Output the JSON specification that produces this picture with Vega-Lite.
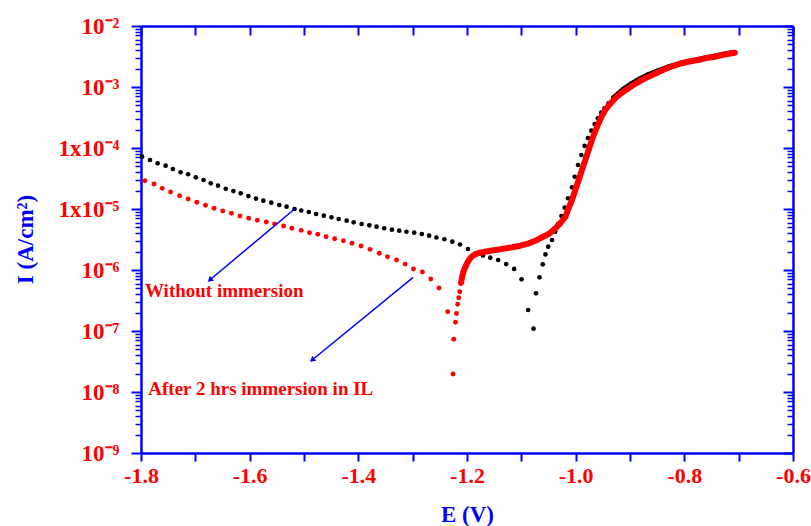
{
  "$schema": "https://vega.github.io/schema/vega-lite/v6.json",
  "width": 652,
  "height": 427,
  "autosize": {"type": "none"},
  "padding": {"left": 141, "top": 26, "right": 18, "bottom": 73},
  "background": "white",
  "config": {"view": {"stroke": null}, "font": "Liberation Serif", "axis": {"grid": false}},
  "datasets": {
    "curves": [
      {"E": -1.798, "I": 7.20e-5, "s": "w", "b": "dot"},
      {"E": -1.7835, "I": 6.36e-5, "s": "w", "b": "dot"},
      {"E": -1.7694, "I": 5.61e-5, "s": "w", "b": "dot"},
      {"E": -1.7547, "I": 5.13e-5, "s": "w", "b": "dot"},
      {"E": -1.7413, "I": 4.53e-5, "s": "w", "b": "dot"},
      {"E": -1.7272, "I": 4.00e-5, "s": "w", "b": "dot"},
      {"E": -1.7132, "I": 3.71e-5, "s": "w", "b": "dot"},
      {"E": -1.6991, "I": 3.31e-5, "s": "w", "b": "dot"},
      {"E": -1.6849, "I": 2.99e-5, "s": "w", "b": "dot"},
      {"E": -1.6716, "I": 2.64e-5, "s": "w", "b": "dot"},
      {"E": -1.6582, "I": 2.41e-5, "s": "w", "b": "dot"},
      {"E": -1.6440, "I": 2.15e-5, "s": "w", "b": "dot"},
      {"E": -1.6299, "I": 1.97e-5, "s": "w", "b": "dot"},
      {"E": -1.6165, "I": 1.81e-5, "s": "w", "b": "dot"},
      {"E": -1.6024, "I": 1.63e-5, "s": "w", "b": "dot"},
      {"E": -1.5884, "I": 1.48e-5, "s": "w", "b": "dot"},
      {"E": -1.5749, "I": 1.37e-5, "s": "w", "b": "dot"},
      {"E": -1.5602, "I": 1.27e-5, "s": "w", "b": "dot"},
      {"E": -1.5455, "I": 1.16e-5, "s": "w", "b": "dot"},
      {"E": -1.5321, "I": 1.09e-5, "s": "w", "b": "dot"},
      {"E": -1.5174, "I": 1.00e-5, "s": "w", "b": "dot"},
      {"E": -1.5051, "I": 9.45e-6, "s": "w", "b": "dot"},
      {"E": -1.4912, "I": 8.93e-6, "s": "w", "b": "dot"},
      {"E": -1.4776, "I": 8.28e-6, "s": "w", "b": "dot"},
      {"E": -1.4636, "I": 7.77e-6, "s": "w", "b": "dot"},
      {"E": -1.4495, "I": 7.31e-6, "s": "w", "b": "dot"},
      {"E": -1.4361, "I": 6.86e-6, "s": "w", "b": "dot"},
      {"E": -1.4215, "I": 6.43e-6, "s": "w", "b": "dot"},
      {"E": -1.4086, "I": 6.05e-6, "s": "w", "b": "dot"},
      {"E": -1.3939, "I": 5.68e-6, "s": "w", "b": "dot"},
      {"E": -1.3798, "I": 5.40e-6, "s": "w", "b": "dot"},
      {"E": -1.3664, "I": 5.13e-6, "s": "w", "b": "dot"},
      {"E": -1.3523, "I": 4.83e-6, "s": "w", "b": "dot"},
      {"E": -1.3382, "I": 4.58e-6, "s": "w", "b": "dot"},
      {"E": -1.3248, "I": 4.41e-6, "s": "w", "b": "dot"},
      {"E": -1.3114, "I": 4.24e-6, "s": "w", "b": "dot"},
      {"E": -1.2972, "I": 4.09e-6, "s": "w", "b": "dot"},
      {"E": -1.2831, "I": 3.89e-6, "s": "w", "b": "dot"},
      {"E": -1.2697, "I": 3.65e-6, "s": "w", "b": "dot"},
      {"E": -1.2563, "I": 3.41e-6, "s": "w", "b": "dot"},
      {"E": -1.2416, "I": 3.19e-6, "s": "w", "b": "dot"},
      {"E": -1.2269, "I": 2.91e-6, "s": "w", "b": "dot"},
      {"E": -1.2128, "I": 2.62e-6, "s": "w", "b": "dot"},
      {"E": -1.1982, "I": 2.21e-6, "s": "w", "b": "dot"},
      {"E": -1.1840, "I": 1.88e-6, "s": "w", "b": "dot"},
      {"E": -1.1706, "I": 1.73e-6, "s": "w", "b": "dot"},
      {"E": -1.1572, "I": 1.59e-6, "s": "w", "b": "dot"},
      {"E": -1.1426, "I": 1.46e-6, "s": "w", "b": "dot"},
      {"E": -1.1279, "I": 1.25e-6, "s": "w", "b": "dot"},
      {"E": -1.1132, "I": 1.04e-6, "s": "w", "b": "dot"},
      {"E": -1.0996, "I": 7.04e-7, "s": "w", "b": "dot"},
      {"E": -1.0875, "I": 2.21e-7, "s": "w", "b": "dot"},
      {"E": -1.0776, "I": 1.09e-7, "s": "w", "b": "dot"},
      {"E": -1.0729, "I": 4.15e-7, "s": "w", "b": "dot"},
      {"E": -1.0666, "I": 7.59e-7, "s": "w", "b": "dot"},
      {"E": -1.0606, "I": 1.24e-6, "s": "w", "b": "dot"},
      {"E": -1.0556, "I": 1.80e-6, "s": "w", "b": "dot"},
      {"E": -1.0505, "I": 2.41e-6, "s": "w", "b": "dot"},
      {"E": -1.0435, "I": 3.10e-6, "s": "w", "b": "dot"},
      {"E": -1.0376, "I": 4.24e-6, "s": "w", "b": "dot"},
      {"E": -1.0325, "I": 5.68e-6, "s": "w", "b": "dot"},
      {"E": -1.0262, "I": 7.68e-6, "s": "w", "b": "dot"},
      {"E": -1.0202, "I": 1.05e-5, "s": "w", "b": "dot"},
      {"E": -1.0141, "I": 1.50e-5, "s": "w", "b": "dot"},
      {"E": -1.0068, "I": 2.27e-5, "s": "w", "b": "dot"},
      {"E": -1.0018, "I": 3.38e-5, "s": "w", "b": "dot"},
      {"E": -0.9957, "I": 5.26e-5, "s": "w", "b": "dot"},
      {"E": -0.9895, "I": 7.68e-5, "s": "w", "b": "dot"},
      {"E": -0.9835, "I": 1.08e-4, "s": "w", "b": "dot"},
      {"E": -0.9774, "I": 1.46e-4, "s": "w", "b": "dot"},
      {"E": -0.9712, "I": 1.92e-4, "s": "w", "b": "dot"},
      {"E": -0.9651, "I": 2.47e-4, "s": "w", "b": "dot"},
      {"E": -0.9591, "I": 3.07e-4, "s": "w", "b": "dot"},
      {"E": -0.9529, "I": 3.79e-4, "s": "w", "b": "dot"},
      {"E": -0.9468, "I": 4.47e-4, "s": "w", "b": "dot"},
      {"E": -0.9395, "I": 5.40e-4, "s": "w", "b": "dot"},
      {"E": -0.9303, "I": 6.68e-4, "s": "w", "b": "band"},
      {"E": -0.9211, "I": 7.88e-4, "s": "w", "b": "band"},
      {"E": -0.9119, "I": 9.27e-4, "s": "w", "b": "band"},
      {"E": -0.8972, "I": 1.14e-3, "s": "w", "b": "band"},
      {"E": -0.8826, "I": 1.35e-3, "s": "w", "b": "band"},
      {"E": -0.8661, "I": 1.60e-3, "s": "w", "b": "band"},
      {"E": -0.8477, "I": 1.86e-3, "s": "w", "b": "band"},
      {"E": -0.8294, "I": 2.13e-3, "s": "w", "b": "band"},
      {"E": -0.8110, "I": 2.38e-3, "s": "w", "b": "band"},
      {"E": -0.7927, "I": 2.62e-3, "s": "w", "b": "band"},
      {"E": -0.7743, "I": 2.82e-3, "s": "w", "b": "band"},
      {"E": -0.7523, "I": 3.10e-3, "s": "w", "b": "band"},
      {"E": -0.7303, "I": 3.41e-3, "s": "w", "b": "band"},
      {"E": -0.7083, "I": 3.68e-3, "s": "w", "b": "band"},
      {"E": -1.7927, "I": 2.91e-5, "s": "a", "b": "dot"},
      {"E": -1.7761, "I": 2.57e-5, "s": "a", "b": "dot"},
      {"E": -1.7609, "I": 2.18e-5, "s": "a", "b": "dot"},
      {"E": -1.7455, "I": 1.90e-5, "s": "a", "b": "dot"},
      {"E": -1.7290, "I": 1.65e-5, "s": "a", "b": "dot"},
      {"E": -1.7132, "I": 1.46e-5, "s": "a", "b": "dot"},
      {"E": -1.6972, "I": 1.29e-5, "s": "a", "b": "dot"},
      {"E": -1.6813, "I": 1.15e-5, "s": "a", "b": "dot"},
      {"E": -1.6655, "I": 1.03e-5, "s": "a", "b": "dot"},
      {"E": -1.6495, "I": 9.27e-6, "s": "a", "b": "dot"},
      {"E": -1.6336, "I": 8.50e-6, "s": "a", "b": "dot"},
      {"E": -1.6178, "I": 7.68e-6, "s": "a", "b": "dot"},
      {"E": -1.6018, "I": 7.04e-6, "s": "a", "b": "dot"},
      {"E": -1.5859, "I": 6.53e-6, "s": "a", "b": "dot"},
      {"E": -1.5694, "I": 6.12e-6, "s": "a", "b": "dot"},
      {"E": -1.5541, "I": 5.68e-6, "s": "a", "b": "dot"},
      {"E": -1.5376, "I": 5.26e-6, "s": "a", "b": "dot"},
      {"E": -1.5224, "I": 4.83e-6, "s": "a", "b": "dot"},
      {"E": -1.5051, "I": 4.47e-6, "s": "a", "b": "dot"},
      {"E": -1.4899, "I": 4.09e-6, "s": "a", "b": "dot"},
      {"E": -1.4747, "I": 3.85e-6, "s": "a", "b": "dot"},
      {"E": -1.4593, "I": 3.51e-6, "s": "a", "b": "dot"},
      {"E": -1.4435, "I": 3.26e-6, "s": "a", "b": "dot"},
      {"E": -1.4275, "I": 3.02e-6, "s": "a", "b": "dot"},
      {"E": -1.4116, "I": 2.74e-6, "s": "a", "b": "dot"},
      {"E": -1.3950, "I": 2.47e-6, "s": "a", "b": "dot"},
      {"E": -1.3785, "I": 2.18e-6, "s": "a", "b": "dot"},
      {"E": -1.3615, "I": 1.88e-6, "s": "a", "b": "dot"},
      {"E": -1.3462, "I": 1.65e-6, "s": "a", "b": "dot"},
      {"E": -1.3297, "I": 1.46e-6, "s": "a", "b": "dot"},
      {"E": -1.3138, "I": 1.25e-6, "s": "a", "b": "dot"},
      {"E": -1.2985, "I": 1.04e-6, "s": "a", "b": "dot"},
      {"E": -1.2820, "I": 9.27e-7, "s": "a", "b": "dot"},
      {"E": -1.2666, "I": 7.12e-7, "s": "a", "b": "dot"},
      {"E": -1.2514, "I": 5.07e-7, "s": "a", "b": "dot"},
      {"E": -1.2354, "I": 2.07e-7, "s": "a", "b": "dot"},
      {"E": -1.2193, "I": 1.94e-7, "s": "a", "b": "dot"},
      {"E": -1.2212, "I": 1.39e-7, "s": "a", "b": "dot"},
      {"E": -1.2244, "I": 7.31e-8, "s": "a", "b": "dot"},
      {"E": -1.2257, "I": 1.97e-8, "s": "a", "b": "dot"},
      {"E": -1.2171, "I": 2.74e-7, "s": "a", "b": "dot"},
      {"E": -1.2152, "I": 3.51e-7, "s": "a", "b": "dot"},
      {"E": -1.2134, "I": 4.41e-7, "s": "a", "b": "dot"},
      {"E": -1.2110, "I": 6.12e-7, "s": "a", "b": "band"},
      {"E": -1.2086, "I": 7.97e-7, "s": "a", "b": "band"},
      {"E": -1.2061, "I": 9.63e-7, "s": "a", "b": "band"},
      {"E": -1.2024, "I": 1.16e-6, "s": "a", "b": "band"},
      {"E": -1.1982, "I": 1.37e-6, "s": "a", "b": "band"},
      {"E": -1.1945, "I": 1.53e-6, "s": "a", "b": "band"},
      {"E": -1.1903, "I": 1.68e-6, "s": "a", "b": "band"},
      {"E": -1.1853, "I": 1.80e-6, "s": "a", "b": "band"},
      {"E": -1.1780, "I": 1.90e-6, "s": "a", "b": "band"},
      {"E": -1.1719, "I": 1.95e-6, "s": "a", "b": "band"},
      {"E": -1.1596, "I": 2.05e-6, "s": "a", "b": "band"},
      {"E": -1.1473, "I": 2.13e-6, "s": "a", "b": "band"},
      {"E": -1.1321, "I": 2.24e-6, "s": "a", "b": "band"},
      {"E": -1.1169, "I": 2.36e-6, "s": "a", "b": "band"},
      {"E": -1.1028, "I": 2.50e-6, "s": "a", "b": "band"},
      {"E": -1.0862, "I": 2.74e-6, "s": "a", "b": "band"},
      {"E": -1.0734, "I": 3.04e-6, "s": "a", "b": "band"},
      {"E": -1.0618, "I": 3.44e-6, "s": "a", "b": "band"},
      {"E": -1.0495, "I": 3.89e-6, "s": "a", "b": "band"},
      {"E": -1.0372, "I": 4.83e-6, "s": "a", "b": "band"},
      {"E": -1.0294, "I": 5.68e-6, "s": "a", "b": "band"},
      {"E": -1.0189, "I": 7.48e-6, "s": "a", "b": "band"},
      {"E": -1.0128, "I": 1.04e-5, "s": "a", "b": "band"},
      {"E": -1.0068, "I": 1.40e-5, "s": "a", "b": "band"},
      {"E": -1.0006, "I": 2.05e-5, "s": "a", "b": "band"},
      {"E": -0.9945, "I": 2.99e-5, "s": "a", "b": "band"},
      {"E": -0.9884, "I": 4.36e-5, "s": "a", "b": "band"},
      {"E": -0.9822, "I": 6.36e-5, "s": "a", "b": "band"},
      {"E": -0.9761, "I": 9.27e-5, "s": "a", "b": "band"},
      {"E": -0.9701, "I": 1.35e-4, "s": "a", "b": "band"},
      {"E": -0.9638, "I": 1.90e-4, "s": "a", "b": "band"},
      {"E": -0.9578, "I": 2.54e-4, "s": "a", "b": "band"},
      {"E": -0.9517, "I": 3.35e-4, "s": "a", "b": "band"},
      {"E": -0.9455, "I": 4.20e-4, "s": "a", "b": "band"},
      {"E": -0.9376, "I": 5.17e-4, "s": "a", "b": "band"},
      {"E": -0.9271, "I": 6.53e-4, "s": "a", "b": "band"},
      {"E": -0.9156, "I": 7.97e-4, "s": "a", "b": "band"},
      {"E": -0.9028, "I": 9.52e-4, "s": "a", "b": "band"},
      {"E": -0.8881, "I": 1.16e-3, "s": "a", "b": "band"},
      {"E": -0.8721, "I": 1.39e-3, "s": "a", "b": "band"},
      {"E": -0.8569, "I": 1.60e-3, "s": "a", "b": "band"},
      {"E": -0.8354, "I": 1.97e-3, "s": "a", "b": "band"},
      {"E": -0.8202, "I": 2.21e-3, "s": "a", "b": "band"},
      {"E": -0.8050, "I": 2.45e-3, "s": "a", "b": "band"},
      {"E": -0.7908, "I": 2.62e-3, "s": "a", "b": "band"},
      {"E": -0.7743, "I": 2.77e-3, "s": "a", "b": "band"},
      {"E": -0.7596, "I": 2.99e-3, "s": "a", "b": "band"},
      {"E": -0.7437, "I": 3.14e-3, "s": "a", "b": "band"},
      {"E": -0.7266, "I": 3.41e-3, "s": "a", "b": "band"},
      {"E": -0.7070, "I": 3.65e-3, "s": "a", "b": "band"}
    ],
    "arrows": [
      {"E": -1.5174, "I": 1.0e-5, "E2": -1.6734, "I2": 6.86e-7},
      {"E": -1.2991, "I": 7.59e-7, "E2": -1.4850, "I2": 3.35e-8}
    ],
    "notes": [
      {"E": -1.7927, "I": 4.5e-7, "label": "Without immersion"},
      {"E": -1.7866, "I": 1.14e-8, "label": "After 2 hrs immersion in IL"}
    ]
  },
  "encoding": {
    "x": {"field": "E", "type": "quantitative", "scale": {"domain": [-1.8, -0.6], "nice": false, "zero": false}, "axis": null},
    "y": {"field": "I", "type": "quantitative", "scale": {"type": "log", "domain": [1e-9, 1e-2], "nice": false}, "axis": null}
  },
  "layer": [
    {
      "data": {"name": "curves"},
      "transform": [{"filter": "datum.s == 'w'"}],
      "mark": {"type": "circle", "color": "#000000", "opacity": 1, "size": 22},
      "encoding": {
        "x": {
          "field": "E", "type": "quantitative",
          "scale": {"domain": [-1.8, -0.6], "nice": false, "zero": false},
          "axis": {"orient": "bottom", "values": [-1.8, -1.7, -1.6, -1.5, -1.4, -1.3, -1.2, -1.1, -1.0, -0.9, -0.8, -0.7, -0.6], "labels": false, "title": null, "tickColor": "blue", "tickWidth": 2, "tickSize": 8, "domain": false, "ticks": true}
        },
        "y": {
          "field": "I", "type": "quantitative",
          "scale": {"type": "log", "domain": [1e-9, 1e-2], "nice": false},
          "axis": {"orient": "left", "values": [1e-9, 1e-8, 1e-7, 1e-6, 1e-5, 1e-4, 1e-3, 1e-2], "labels": false, "title": null, "tickColor": "blue", "tickWidth": 2, "tickSize": 10, "domain": false, "ticks": true}
        }
      }
    },
    {
      "data": {"name": "curves"},
      "transform": [{"filter": "datum.s == 'w' && datum.b == 'band'"}],
      "mark": {"type": "line", "color": "#000000", "strokeWidth": 5, "strokeCap": "round"},
      "encoding": {
        "x": {
          "field": "E", "type": "quantitative",
          "scale": {"domain": [-1.8, -0.6], "nice": false, "zero": false},
          "axis": {"orient": "top", "values": [-1.8, -1.7, -1.6, -1.5, -1.4, -1.3, -1.2, -1.1, -1.0, -0.9, -0.8, -0.7, -0.6], "labels": false, "title": null, "tickColor": "blue", "tickWidth": 2, "tickSize": -9, "domain": false, "ticks": true}
        },
        "y": {
          "field": "I", "type": "quantitative",
          "scale": {"type": "log", "domain": [1e-9, 1e-2], "nice": false},
          "axis": {"orient": "left", "values": [2e-9, 3e-9, 4e-9, 5e-9, 6e-9, 7e-9, 8e-9, 9e-9, 2e-8, 3e-8, 4e-8, 5e-8, 6e-8, 7e-8, 8e-8, 9e-8, 2e-7, 3e-7, 4e-7, 5e-7, 6e-7, 7e-7, 8e-7, 9e-7, 2e-6, 3e-6, 4e-6, 5e-6, 6e-6, 7e-6, 8e-6, 9e-6, 2e-5, 3e-5, 4e-5, 5e-5, 6e-5, 7e-5, 8e-5, 9e-5, 2e-4, 3e-4, 4e-4, 5e-4, 6e-4, 7e-4, 8e-4, 9e-4, 2e-3, 3e-3, 4e-3, 5e-3, 6e-3, 7e-3, 8e-3, 9e-3], "labels": false, "title": null, "tickColor": "blue", "tickWidth": 1.5, "tickSize": 6, "domain": false, "ticks": true}
        },
        "order": {"field": "E", "type": "quantitative"}
      }
    },
    {
      "data": {"name": "curves"},
      "transform": [{"filter": "datum.s == 'a' && datum.b == 'band'"}],
      "mark": {"type": "line", "color": "#ff0000", "strokeWidth": 6, "strokeCap": "round"},
      "encoding": {
        "y": {
          "field": "I", "type": "quantitative",
          "scale": {"type": "log", "domain": [1e-9, 1e-2], "nice": false},
          "axis": {"orient": "right", "values": [1e-9, 1e-8, 1e-7, 1e-6, 1e-5, 1e-4, 1e-3, 1e-2], "labels": false, "title": null, "tickColor": "blue", "tickWidth": 2, "tickSize": -10, "domain": false, "ticks": true}
        },
        "order": {"field": "E", "type": "quantitative"}
      }
    },
    {
      "data": {"name": "curves"},
      "transform": [{"filter": "datum.s == 'a'"}],
      "mark": {"type": "circle", "color": "#ff0000", "opacity": 1, "size": 24},
      "encoding": {
        "y": {
          "field": "I", "type": "quantitative",
          "scale": {"type": "log", "domain": [1e-9, 1e-2], "nice": false},
          "axis": {"orient": "right", "values": [2e-9, 3e-9, 4e-9, 5e-9, 6e-9, 7e-9, 8e-9, 9e-9, 2e-8, 3e-8, 4e-8, 5e-8, 6e-8, 7e-8, 8e-8, 9e-8, 2e-7, 3e-7, 4e-7, 5e-7, 6e-7, 7e-7, 8e-7, 9e-7, 2e-6, 3e-6, 4e-6, 5e-6, 6e-6, 7e-6, 8e-6, 9e-6, 2e-5, 3e-5, 4e-5, 5e-5, 6e-5, 7e-5, 8e-5, 9e-5, 2e-4, 3e-4, 4e-4, 5e-4, 6e-4, 7e-4, 8e-4, 9e-4, 2e-3, 3e-3, 4e-3, 5e-3, 6e-3, 7e-3, 8e-3, 9e-3], "labels": false, "title": null, "tickColor": "blue", "tickWidth": 1.5, "tickSize": -6, "domain": false, "ticks": true}
        }
      }
    },
    {
      "data": {"name": "arrows"},
      "mark": {"type": "rule", "color": "#0000ff", "strokeWidth": 1.5},
      "encoding": {
        "x": {
          "field": "E", "type": "quantitative",
          "scale": {"domain": [-1.8, -0.6], "nice": false, "zero": false},
          "axis": {
            "orient": "bottom",
            "values": [-1.8, -1.6, -1.4, -1.2, -1.0, -0.8, -0.6],
            "ticks": false,
            "domainColor": "blue", "domainWidth": 2.5,
            "labelExpr": "'-' + format(-datum.value, '.1f')",
            "labelColor": "red", "labelFont": "Liberation Serif", "labelFontSize": 22, "labelFontWeight": "bold",
            "labelPadding": 12, "labelFlush": false, "labelOverlap": false, "labelBound": false,
            "title": "E (V)", "titleColor": "blue", "titleFont": "Liberation Serif", "titleFontSize": 23, "titleFontWeight": "bold",
            "titleX": 326, "titleY": 50, "titleBaseline": "top", "titleAlign": "center"
          }
        },
        "y": {
          "field": "I", "type": "quantitative",
          "scale": {"type": "log", "domain": [1e-9, 1e-2], "nice": false},
          "axis": {
            "orient": "left",
            "values": [1e-9, 1e-8, 1e-7, 1e-6, 1e-5, 1e-4, 1e-3, 1e-2],
            "ticks": false,
            "domainColor": "blue", "domainWidth": 2.5,
            "labelExpr": "(round(log(datum.value)/LN10) == -4 || round(log(datum.value)/LN10) == -5 ? '1x10' : '10') + '⁻' + ['⁰','¹','²','³','⁴','⁵','⁶','⁷','⁸','⁹'][-round(log(datum.value)/LN10)]",
            "labelColor": "red", "labelFont": "Liberation Serif", "labelFontSize": 23, "labelFontWeight": "bold",
            "labelPadding": 22, "labelFlush": false, "labelOverlap": false, "labelBound": false,
            "title": "I (A/cm²)", "titleColor": "blue", "titleFont": "Liberation Serif", "titleFontSize": 23, "titleFontWeight": "bold",
            "titleAngle": 270, "titleX": -104, "titleY": 213, "titleBaseline": "bottom", "titleAlign": "center"
          }
        },
        "x2": {"field": "E2"}, "y2": {"field": "I2"}
      }
    },
    {
      "data": {"name": "arrows"},
      "mark": {"type": "point", "shape": "triangle-up", "filled": true, "color": "#0000ff", "opacity": 1, "size": 40, "angle": 230},
      "encoding": {
        "x": {
          "field": "E2", "type": "quantitative",
          "scale": {"domain": [-1.8, -0.6], "nice": false, "zero": false},
          "axis": {"orient": "top", "ticks": false, "labels": false, "title": null, "domainColor": "blue", "domainWidth": 2.5}
        },
        "y": {
          "field": "I2", "type": "quantitative",
          "scale": {"type": "log", "domain": [1e-9, 1e-2], "nice": false},
          "axis": {"orient": "right", "ticks": false, "labels": false, "title": null, "domainColor": "blue", "domainWidth": 2.5}
        }
      }
    },
    {
      "data": {"name": "notes"},
      "mark": {"type": "text", "align": "left", "baseline": "middle", "font": "Liberation Serif", "fontSize": 19, "fontWeight": "bold", "color": "#ff0000"},
      "encoding": {"text": {"field": "label"}}
    }
  ],
  "resolve": {"axis": {"x": "independent", "y": "independent"}}
}
